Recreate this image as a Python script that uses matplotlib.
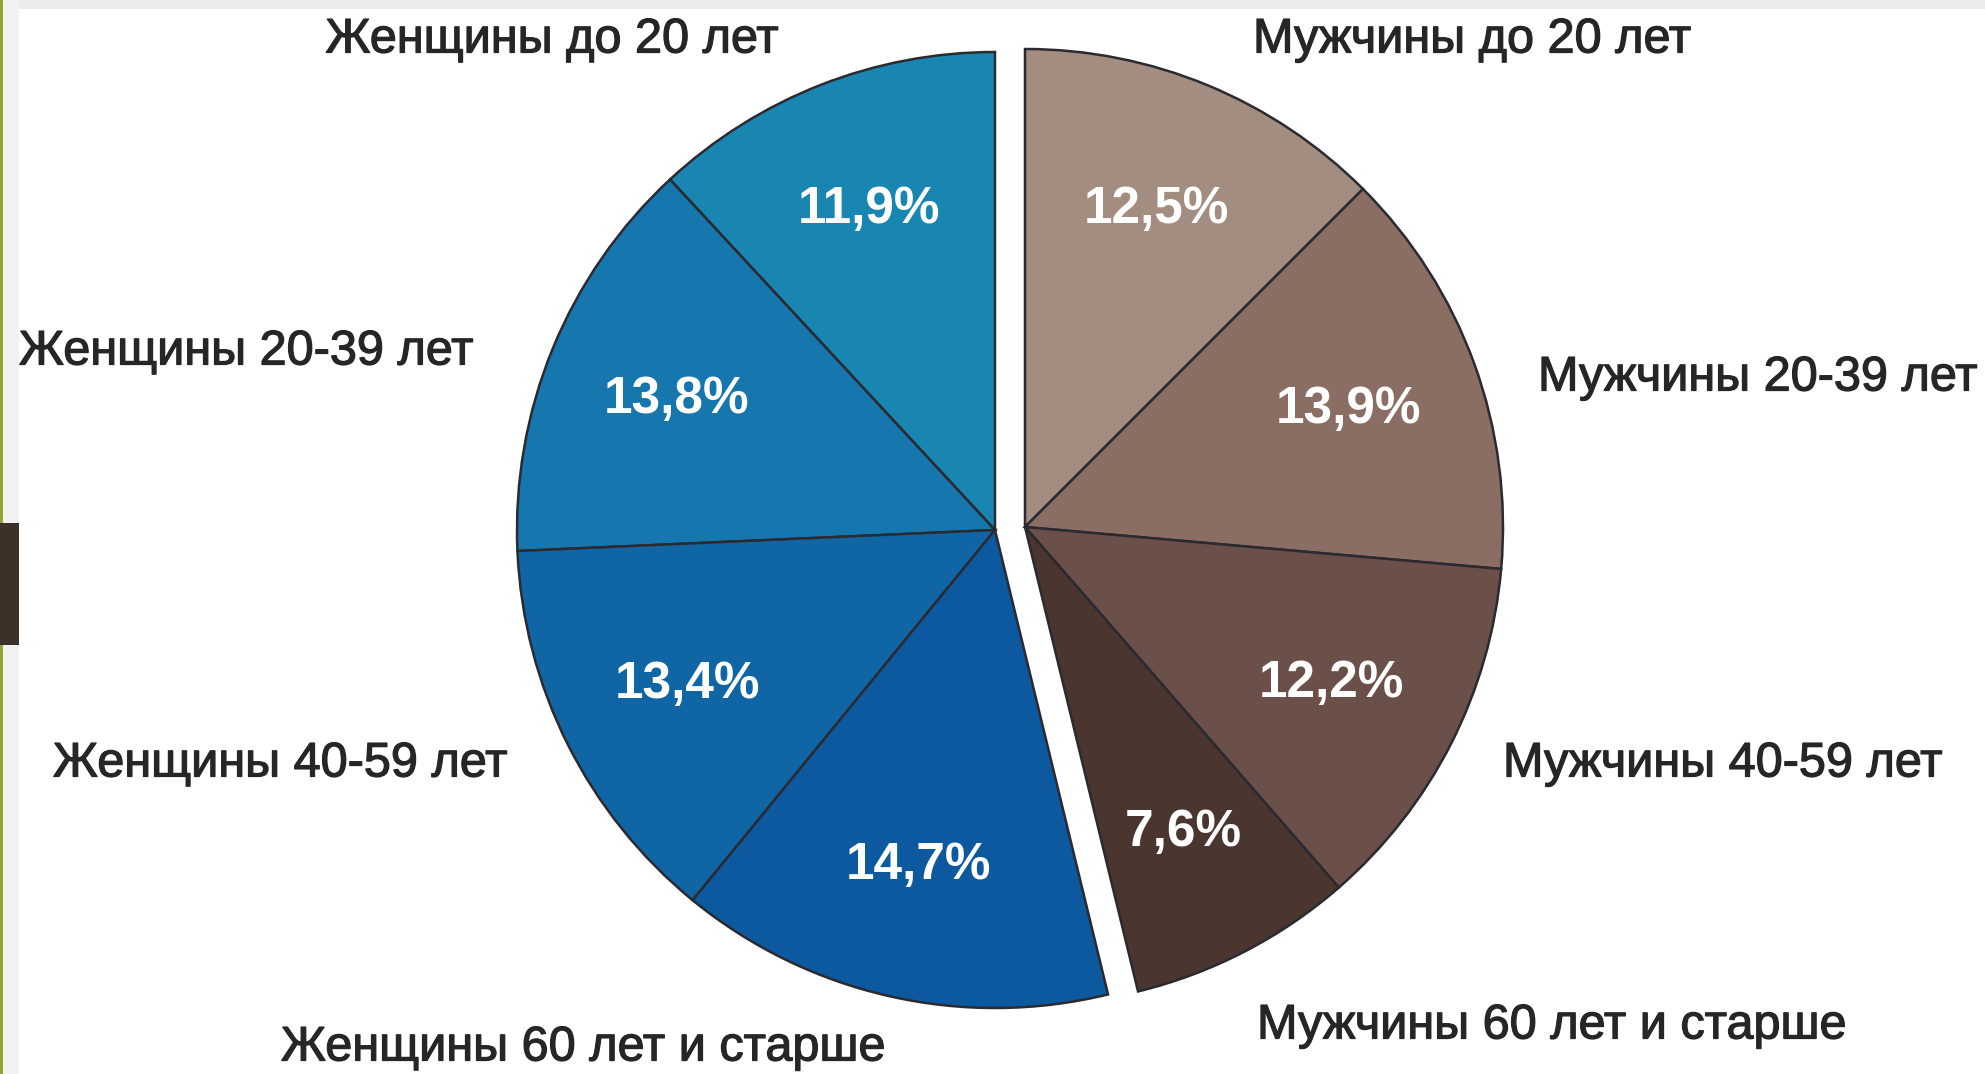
import matplotlib
matplotlib.use("Agg")
import matplotlib.pyplot as plt
import matplotlib.patheffects as pe
from matplotlib.patches import Rectangle

# data: share of population, %
WOMEN_LABELS = ["Женщины до 20 лет", "Женщины 20-39 лет",
                "Женщины 40-59 лет", "Женщины 60 лет и старше"]
WOMEN_VALUES = [11.9, 13.8, 13.4, 14.7]
MEN_LABELS = ["Мужчины до 20 лет", "Мужчины 20-39 лет",
              "Мужчины 40-59 лет", "Мужчины 60 лет и старше"]
MEN_VALUES = [12.5, 13.9, 12.2, 7.6]

WOMEN_COLORS = ["#1886b0", "#1577ae", "#1066a4", "#0c59a0"]
MEN_COLORS = ["#a38d80", "#8a6e63", "#6a5048", "#4a362e"]

W, H = 1985, 1074
# outside label anchors in pixel coords (x, y from top, ha)
WOMEN_LABEL_POS = [(779, 40, "right"), (19, 352, "left"),
                   (53, 764, "left"), (281, 1048, "left")]
MEN_LABEL_POS = [(1253, 40, "left"), (1538, 378, "left"),
                 (1503, 764, "left"), (1257, 1026, "left")]

FONT = ["Liberation Sans", "DejaVu Sans"]


def pct_fmt(p):
    return f"{p:.1f}%".replace(".", ",")


fig = plt.figure(figsize=(W / 100, H / 100), dpi=100)
fig.patch.set_facecolor("white")
ax = fig.add_axes([0, 0, 1, 1])

wedge_kw = dict(edgecolor="#2a2a30", linewidth=1.8)
text_kw = dict(color="white", fontsize=37, fontweight="bold", family=FONT)

# women: left half, counter-clockwise from the top
ax.pie([v / 100 for v in WOMEN_VALUES], colors=WOMEN_COLORS, startangle=90,
       counterclock=True, normalize=False, center=(995, H - 530), radius=478,
       autopct=pct_fmt, pctdistance=0.72, wedgeprops=wedge_kw,
       textprops=text_kw)
# men: right half, clockwise from the top, pulled out a bit
ax.pie([v / 100 for v in MEN_VALUES], colors=MEN_COLORS, startangle=90,
       counterclock=False, normalize=False, center=(1025, H - 527), radius=478,
       autopct=pct_fmt, pctdistance=0.72, wedgeprops=wedge_kw,
       textprops=text_kw)

for lab, (x, y, ha) in zip(WOMEN_LABELS + MEN_LABELS,
                           WOMEN_LABEL_POS + MEN_LABEL_POS):
    ax.text(x, H - y, lab, ha=ha, va="center", fontsize=35,
            color="#262626", family=FONT,
            path_effects=[pe.withStroke(linewidth=0.9, foreground="#262626")])

# slide remnants at the edges
ax.add_patch(Rectangle((0, H - 9), W, 9, facecolor="#ebebeb", lw=0))
ax.add_patch(Rectangle((0, 0), 19, H, facecolor="#f2f2f2", lw=0))
ax.add_patch(Rectangle((0, 0), 3, H, facecolor="#8fa83a", lw=0))
ax.add_patch(Rectangle((0, H - 645), 19, 122, facecolor="#3b3128", lw=0))

ax.set_xlim(0, W)
ax.set_ylim(0, H)
ax.set_aspect("equal")
ax.axis("off")

fig.savefig("out.png", dpi=100)
